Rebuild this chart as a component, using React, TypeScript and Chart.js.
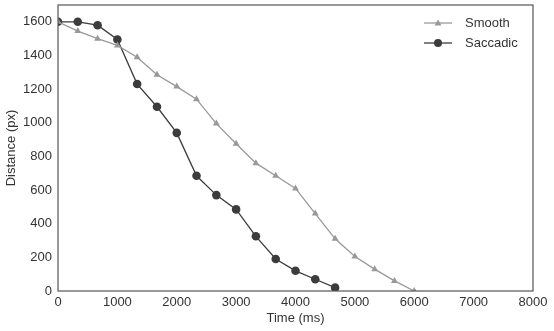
import React, { useEffect, useRef } from "react";
import { Chart, registerables } from "chart.js";

Chart.register(...registerables);

const timesMs = [0, 333, 667, 1000, 1333, 1667, 2000, 2333, 2667, 3000, 3333, 3667, 4000, 4333, 4667, 5000, 5333, 5667, 6000];
const smoothValues = [1600, 1545, 1500, 1460, 1390, 1285, 1215, 1140, 995, 875, 760, 685, 610, 460, 310, 205, 130, 60, 0];
const saccadicValues = [1600, 1600, 1580, 1495, 1230, 1095, 940, 685, 570, 485, 325, 190, 120, 70, 20];
const yTicks = [0, 200, 400, 600, 800, 1000, 1200, 1400, 1600];
const xTicks = [0, 1000, 2000, 3000, 4000, 5000, 6000, 7000, 8000];
const seriesNames = ["Smooth", "Saccadic"];

const SMOOTH_COLOR = "#999999";
const SACC_COLOR = "#3c3c3c";
const FONT = "'Liberation Sans', Arial, sans-serif";

const framePlugin = {
  id: "frameAndLegend",
  afterDraw(chart: any) {
    const { ctx, chartArea } = chart;
    ctx.save();
    ctx.strokeStyle = "#555555";
    ctx.lineWidth = 1.2;
    ctx.strokeRect(chartArea.left, chartArea.top, chartArea.right - chartArea.left, chartArea.bottom - chartArea.top);
    const items = [
      { label: seriesNames[0], color: SMOOTH_COLOR, style: "triangle", y: 23 },
      { label: seriesNames[1], color: SACC_COLOR, style: "circle", y: 43 },
    ];
    items.forEach((it) => {
      ctx.strokeStyle = it.color;
      ctx.fillStyle = it.color;
      ctx.lineWidth = 1.3;
      ctx.beginPath();
      ctx.moveTo(424, it.y);
      ctx.lineTo(452, it.y);
      ctx.stroke();
      ctx.beginPath();
      if (it.style === "circle") {
        ctx.arc(438, it.y, 4, 0, Math.PI * 2);
      } else {
        ctx.moveTo(438, it.y - 3.5);
        ctx.lineTo(441.5, it.y + 2.5);
        ctx.lineTo(434.5, it.y + 2.5);
        ctx.closePath();
      }
      ctx.fill();
      ctx.fillStyle = "#333333";
      ctx.font = `13px ${FONT}`;
      ctx.textBaseline = "middle";
      ctx.textAlign = "left";
      ctx.fillText(it.label, 465, it.y);
    });
    ctx.restore();
  },
};

export default function App() {
  const ref = useRef<HTMLCanvasElement>(null);
  useEffect(() => {
    const chart = new Chart(ref.current!, {
      type: "line",
      data: {
        datasets: [
          {
            label: seriesNames[0],
            data: timesMs.map((t, i) => ({ x: t, y: smoothValues[i] })),
            borderColor: SMOOTH_COLOR,
            backgroundColor: SMOOTH_COLOR,
            borderWidth: 1.3,
            pointStyle: "triangle",
            pointRadius: 4,
            pointBorderWidth: 0,
            tension: 0,
          },
          {
            label: seriesNames[1],
            data: saccadicValues.map((v, i) => ({ x: timesMs[i], y: v })),
            borderColor: SACC_COLOR,
            backgroundColor: SACC_COLOR,
            borderWidth: 1.3,
            pointStyle: "circle",
            pointRadius: 4.3,
            pointBorderWidth: 0,
            tension: 0,
          },
        ],
      },
      options: {
        animation: false,
        responsive: false,
        maintainAspectRatio: false,
        layout: { padding: { top: 5, right: 21, left: 0, bottom: 0 } },
        plugins: { legend: { display: false }, tooltip: { enabled: false } },
        scales: {
          x: {
            type: "linear",
            min: 0,
            max: 8000,
            grid: { display: false, drawTicks: false },
            border: { display: false },
            afterBuildTicks: (s: any) => { s.ticks = xTicks.map((v) => ({ value: v })); },
            afterFit: (s: any) => { s.height = 40; s.paddingLeft = 0; s.paddingRight = 0; },
            ticks: { color: "#333333", font: { family: FONT, size: 13 }, padding: 4, maxRotation: 0, callback: (v: any) => String(v) },
            title: { display: true, text: "Time (ms)", color: "#333333", font: { family: FONT, size: 13 }, padding: { top: 0, bottom: 5 } },
          },
          y: {
            type: "linear",
            min: 0,
            max: 1700,
            grid: { display: false, drawTicks: false },
            border: { display: false },
            afterBuildTicks: (s: any) => { s.ticks = yTicks.map((v) => ({ value: v })); },
            afterFit: (s: any) => { s.width = 58; s.paddingTop = 0; s.paddingBottom = 0; },
            ticks: { color: "#333333", font: { family: FONT, size: 13 }, padding: 6, callback: (v: any) => String(v) },
            title: { display: true, text: "Distance (px)", color: "#333333", font: { family: FONT, size: 13 }, padding: { top: 4, bottom: 0 } },
          },
        },
      },
      plugins: [framePlugin],
    } as any);
    return () => chart.destroy();
  }, []);
  return (
    <div style={{ position: "fixed", left: 0, top: 0, width: 554, height: 331, background: "#fff" }}>
      <canvas ref={ref} width={554} height={331} style={{ width: 554, height: 331 }} />
    </div>
  );
}
